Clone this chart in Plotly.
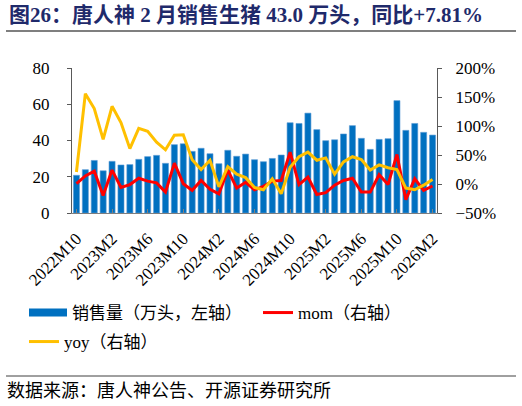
import plotly.graph_objects as go

months = ["2022M10", "2022M11", "2022M12"]
for y in (2023, 2024, 2025):
    months += [f"{y}M{m}" for m in range(1, 13)]
months += ["2026M1", "2026M2"]

sales = [20.8, 23.9, 29.0, 23.3, 28.5, 26.5, 26.7, 29.6, 31.1, 31.8,
         27.4, 37.7, 38.2, 34.0, 35.7, 32.7, 27.2, 34.6, 31.3, 32.5,
         29.4, 28.3, 30.1, 32.0, 49.8, 49.4, 55.1, 46.0, 39.9, 40.4,
         43.6, 48.2, 41.2, 35.1, 40.6, 41.0, 62.0, 45.6, 49.4, 44.5, 43.0]
mom = [0.6, 14, 22, -20, 24, -6, -1, 10, 5, 2,
       -14, 36, 0.5, -11, 6, -9, -17, 24, -7, 3,
       -10, -4, 5, 6, 55, -1, 12, -18, -15, -2,
       6, 10, -14, -14, 16, -1, 51, -27, 9, -11, -3.4]
yoy = [20.7, 155.7, 130, 77, 134, 106, 61, 96, 91, 72,
       59, 84, 85, 42, 25, 41, -5, 30, 17, 11,
       -6, -10, 9, -17, 29, 47, 55, 41, 45, 17,
       38, 47, 42, 24, 33, 28, 25, -7, -10, -2, 7.81]
tick_labels = months[::4]

mom_f = [v / 100 for v in mom]
yoy_f = [v / 100 for v in yoy]

SERIF = "Liberation Serif, 'Times New Roman', 'Noto Sans CJK SC', serif"
BLUE = "#0070C0"
RED = "#FF0000"
YEL = "#FFC000"

W, H = 522, 406
L, T = 72, 68
R = W - 437
B = H - 213
pw, ph = W - L - R, H - T - B

def px(x):
    return (x - L) / pw

def py(y):
    return (H - B - y) / ph

fig = go.Figure()
fig.add_trace(go.Bar(x=months, y=sales, marker=dict(color=BLUE, line=dict(color="#5B9BD5", width=0.6)),
                     showlegend=False, yaxis="y"))
fig.add_trace(go.Scatter(x=[None], y=[None], mode="lines", line=dict(color=BLUE, width=8),
                         name="销售量（万头，左轴）", legend="legend"))
fig.add_trace(go.Scatter(x=months, y=mom_f, mode="lines", line=dict(color=RED, width=3),
                         name="mom（右轴）", yaxis="y2", legend="legend2"))
fig.add_trace(go.Scatter(x=months, y=yoy_f, mode="lines", line=dict(color=YEL, width=3),
                         name="yoy（右轴）", yaxis="y2", legend="legend3"))

axis_font = dict(family=SERIF, size=17, color="#000000")
leg_font = dict(family=SERIF, size=17, color="#000000")

def leg(x, y, iw=30):
    return dict(orientation="h", x=px(x), y=py(y), xanchor="left", yanchor="middle",
                font=leg_font, itemwidth=iw, bgcolor="rgba(0,0,0,0)", borderwidth=0)

fig.update_layout(
    width=W, height=H,
    margin=dict(l=L, r=R, t=T, b=B, pad=0),
    paper_bgcolor="white", plot_bgcolor="white",
    bargap=0.32,
    xaxis=dict(type="category", tickmode="array", tickvals=tick_labels, ticktext=tick_labels,
               tickangle=-45, tickfont=axis_font, showline=True, linecolor="#7F7F7F", linewidth=1.2,
               ticks="inside", ticklen=4, tickcolor="#7F7F7F", showgrid=False, zeroline=False,
               ticklabelstandoff=8, range=[-0.5, len(months) - 0.5]),
    yaxis=dict(range=[0, 80], dtick=20, tickfont=axis_font, showline=True, linecolor="#595959",
               linewidth=1.2, ticks="outside", ticklen=4, tickcolor="#595959", showgrid=False,
               zeroline=False, ticklabelstandoff=14),
    yaxis2=dict(range=[-0.5, 2.0], dtick=0.5, tickformat=".0%", overlaying="y", side="right",
                tickfont=axis_font, showline=True, linecolor="#595959", linewidth=1.2,
                ticks="outside", ticklen=4, tickcolor="#595959", showgrid=False, zeroline=False,
                ticklabelstandoff=10),
    legend=leg(24, 313, 38),
    legend2=leg(258, 313),
    legend3=leg(24, 342),
    showlegend=True,
)

fig.add_annotation(x=px(7), y=py(15), xref="paper", yref="paper", xanchor="left", yanchor="middle",
                   text="<b>图26：唐人神 2 月销售生猪 43.0 万头，同比+7.81%</b>", showarrow=False,
                   font=dict(family=SERIF, size=21, color="#1F2A6B"))
fig.add_annotation(x=px(5), y=py(391), xref="paper", yref="paper", xanchor="left", yanchor="middle",
                   text="数据来源：唐人神公告、开源证券研究所", showarrow=False,
                   font=dict(family=SERIF, size=18, color="#000000"))
fig.add_shape(type="line", xref="paper", yref="paper", x0=px(6), x1=px(516), y0=py(31), y1=py(31),
              line=dict(color="#000000", width=1.2))
fig.add_shape(type="line", xref="paper", yref="paper", x0=px(6), x1=px(516), y0=py(376), y1=py(376),
              line=dict(color="#404040", width=1))

fig.write_html("out.html", config={"displayModeBar": False},
               post_script="document.body.style.margin='0';")
